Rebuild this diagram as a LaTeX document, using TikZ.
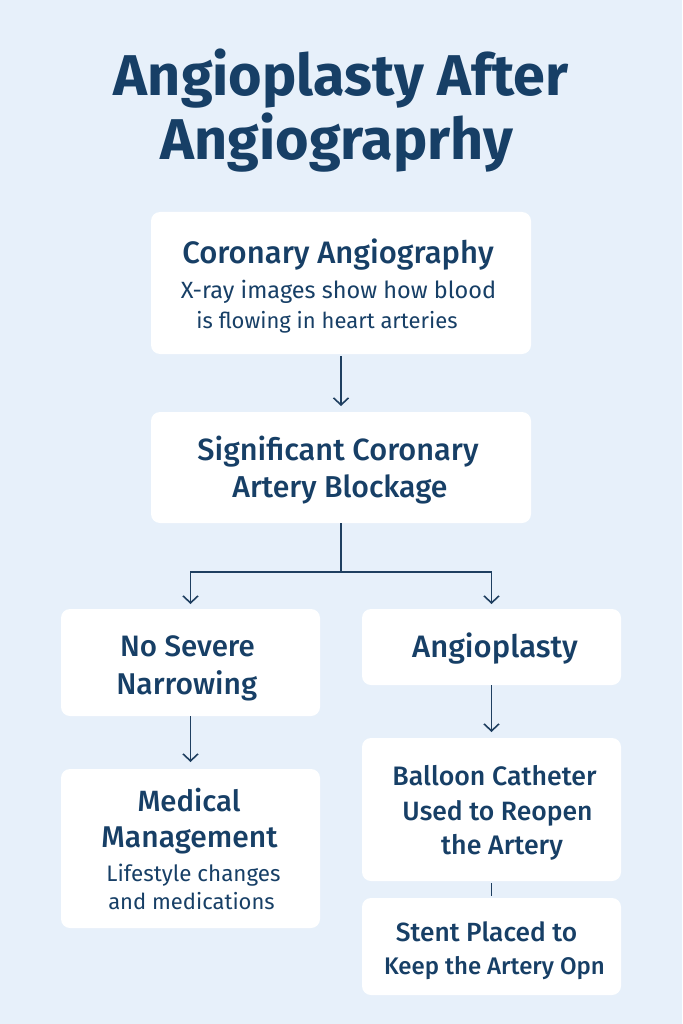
\documentclass[tikz,border=0pt]{standalone}
\usepackage{fontspec}
\setmainfont{Fira Sans}
\newfontfamily\titlefont{Fira Sans}[UprightFont={* Bold}]
\newfontfamily\headfont{Fira Sans}[UprightFont={* Medium}]
\usetikzlibrary{arrows.meta}
\definecolor{bgcol}{HTML}{E7F0FA}
\definecolor{navy}{HTML}{173F66}
\definecolor{linecol}{HTML}{1F3F60}
\tikzset{
  box/.style={fill=white, rounded corners=9pt, inner sep=0pt, outer sep=0pt},
  ttl/.style={anchor=base, text=navy, font=\titlefont\fontsize{57.5}{60}\selectfont},
  hd/.style={anchor=base, text=navy, font=\headfont\fontsize{#1}{#1}\selectfont},
  sub/.style={anchor=base, text=navy, font=\fontsize{#1}{#1}\selectfont},
  conn/.style={draw=linecol, line width=1.6pt},
  arr/.style={conn, -{Straight Barb[length=7pt,width=15pt]}},
}
\begin{document}
\begin{tikzpicture}[x=1pt,y=-1pt]
\fill[bgcol] (0,0) rectangle (682,1024);
\useasboundingbox (0,0) rectangle (682,1024);

% title
\node[ttl] (t1) at (341,96) {Angioplasty After};
\node[ttl] (t2) at (337,160) {Angiograprhy};

% boxes
\node[box, minimum width=380pt, minimum height=142pt] (b1) at (341,283) {};
\node[box, minimum width=380pt, minimum height=111pt] (b2) at (341,467.5) {};
\node[box, minimum width=259pt, minimum height=107pt] (b3) at (190.5,662.5) {};
\node[box, minimum width=259pt, minimum height=76pt] (b4) at (491.5,647) {};
\node[box, minimum width=259pt, minimum height=159pt] (b5) at (190.5,848.5) {};
\node[box, minimum width=259pt, minimum height=143pt] (b6) at (491.5,809.5) {};
\node[box, minimum width=259pt, minimum height=97pt] (b7) at (491.5,946.5) {};

% texts
\node[hd=31] (b1h) at (338,263) {Coronary Angiography};
\node[sub=23.5] (b1a) at (338.5,298) {X-ray images show how blood};
\node[sub=22] (b1b) at (327,328) {is flowing in heart arteries};

\node[hd=30.7] (b2a) at (338,460) {Significant Coronary};
\node[hd=30.2] (b2b) at (340,497) {Artery Blockage};

\node[hd=29.5] (b3a) at (187.5,656.5) {No Severe};
\node[hd=30] (b3b) at (186.7,694.5) {Narrowing};

\node[hd=31] (b4a) at (495,657.5) {Angioplasty};

\node[hd=29.3] (b5a) at (189,811) {Medical};
\node[hd=30] (b5b) at (189.5,847) {Management};
\node[sub=22.4] (b5c) at (193.5,881) {Lifestyle changes};
\node[sub=22] (b5d) at (191.5,909) {and medications};

\node[hd=26.7] (b6a) at (494.5,785.5) {Balloon Catheter};
\node[hd=26.5] (b6b) at (497.5,820) {Used to Reopen};
\node[hd=26.8] (b6c) at (502,854) {the Artery};

\node[hd=26.3] (b7a) at (486.5,941) {Stent Placed to};
\node[hd=24] (b7b) at (494.5,974.5) {Keep the Artery Opn};

% connectors
\draw[arr, shorten <=2pt, shorten >=6pt] (b1.south) -- (b2.north);
\coordinate (jn) at (341,572);
\draw[conn] (b2.south) -- (jn);
\draw[arr, shorten >=5pt] (jn) -| (b3.north);
\draw[arr, shorten >=5pt] (jn) -| (b4.north);
\draw[arr, shorten >=7pt] (b3.south) -- (b5.north);
\draw[arr, shorten >=6pt] (b4.south) -- (b6.north);
\draw[conn, shorten <=2pt, shorten >=2pt] (b6.south) -- (b7.north);
\end{tikzpicture}
\end{document}
